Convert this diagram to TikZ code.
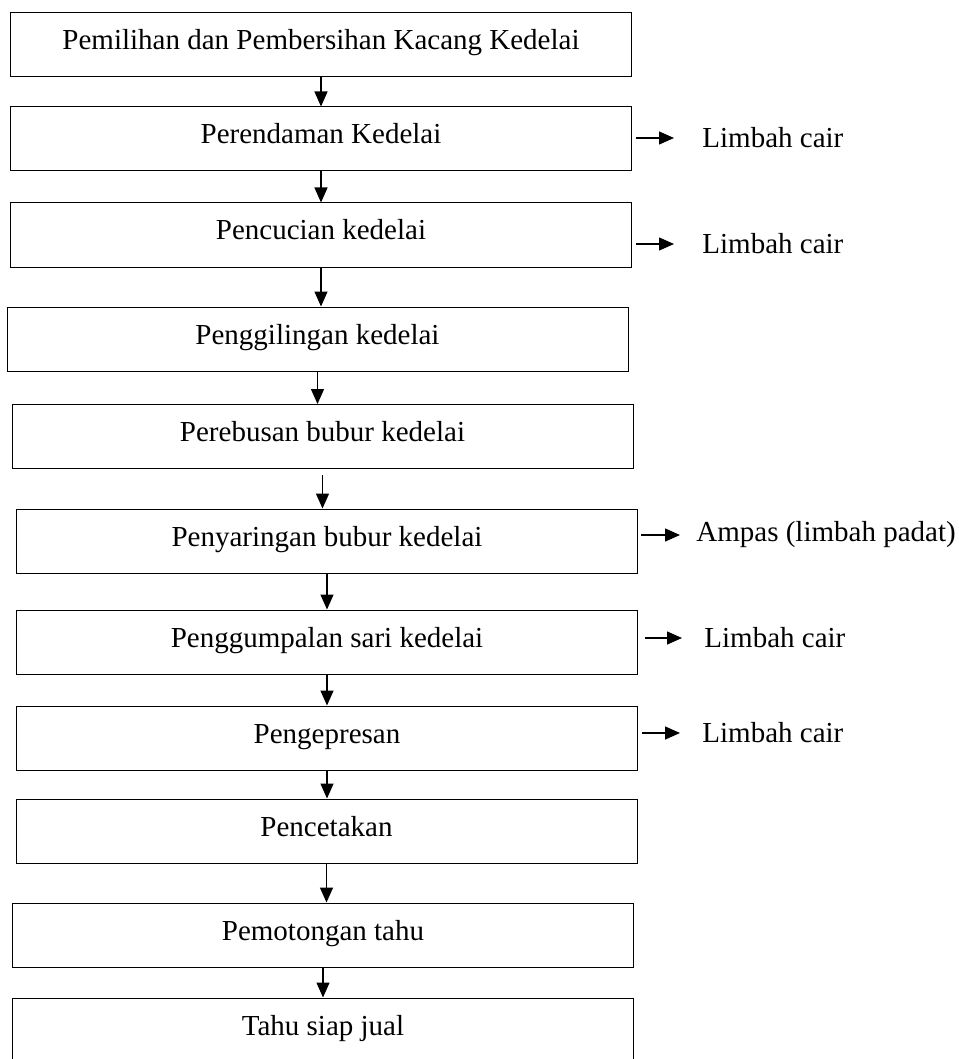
\documentclass[tikz,border=0pt]{standalone}
\usepackage{fontspec}
\setmainfont{Liberation Serif}
\usetikzlibrary{arrows.meta,positioning,calc}

\begin{document}
\begin{tikzpicture}[x=0.5pt, y=-0.5pt]
  \tikzstyle{proses}=[rectangle, draw, line width=0.5pt, minimum width=310.5pt, minimum height=32pt, inner sep=0pt, text height=9pt, text depth=4pt, font=\fontsize{14.5}{17}\selectfont]
  \tikzstyle{limbah}=[anchor=west, inner sep=0pt, font=\fontsize{14.5}{17}\selectfont]
  \tikzstyle{alur}=[-{Triangle[length=7.5pt, width=6.5pt]}, line width=0.7pt]

  \useasboundingbox (0,0) rectangle (958,1059);

  % Tahapan proses pembuatan tahu
  \node[proses] (pilih)  at (321,45)    {Pemilihan dan Pembersihan Kacang Kedelai};
  \node[proses] (rendam) at (321,139)   {Perendaman Kedelai};
  \node[proses] (cuci)   at (321,235)   {Pencucian kedelai};
  \node[proses] (giling) at (317.5,339) {Penggilingan kedelai};
  \node[proses] (rebus)  at (322.5,436.5) {Perebusan bubur kedelai};
  \node[proses] (saring) at (327,541)   {Penyaringan bubur kedelai};
  \node[proses] (gumpal) at (327,642)   {Penggumpalan sari kedelai};
  \node[proses] (pres)   at (327,738)   {Pengepresan};
  \node[proses] (cetak)  at (326.5,831) {Pencetakan};
  \node[proses] (potong) at (323,935)   {Pemotongan tahu};
  \node[proses] (jual)   at (323,1030)  {Tahu siap jual};

  \draw[alur] (pilih.south)  -- (pilih.south |- rendam.north);
  \draw[alur] (rendam.south) -- (rendam.south |- cuci.north);
  \draw[alur] (cuci.south)   -- (cuci.south |- giling.north);
  \draw[alur] (giling.south) -- (giling.south |- rebus.north);
  \draw[alur, shorten <=3pt] (rebus.south) -- (rebus.south |- saring.north);
  \draw[alur] (saring.south) -- (saring.south |- gumpal.north);
  \draw[alur] (gumpal.south) -- (gumpal.south |- pres.north);
  \draw[alur] (pres.south)   -- (pres.south |- cetak.north);
  \draw[alur] (cetak.south)  -- (cetak.south |- potong.north);
  \draw[alur] (potong.south) -- (potong.south |- jual.north);

  % Limbah
  \node[limbah] (cair1) at (702,138) {Limbah cair};
  \node[limbah] (cair2) at (702,244) {Limbah cair};
  \node[limbah] (ampas) at (696,535) {Ampas (limbah padat)};
  \node[limbah] (cair3) at (704,638) {Limbah cair};
  \node[limbah] (cair4) at (702,733) {Limbah cair};

  \draw[alur, shorten <=2pt, shorten >=14pt] (rendam.east |- cair1.west) -- (cair1.west);
  \draw[alur, shorten <=2pt, shorten >=14pt] (cuci.east |- cair2.west) -- (cair2.west);
  \draw[alur, shorten <=1.5pt, shorten >=8pt] (saring.east |- ampas.west) -- (ampas.west);
  \draw[alur, shorten <=3.5pt, shorten >=11pt] (gumpal.east |- cair3.west) -- (cair3.west);
  \draw[alur, shorten <=2pt, shorten >=11pt] (pres.east |- cair4.west) -- (cair4.west);
\end{tikzpicture}
\end{document}
